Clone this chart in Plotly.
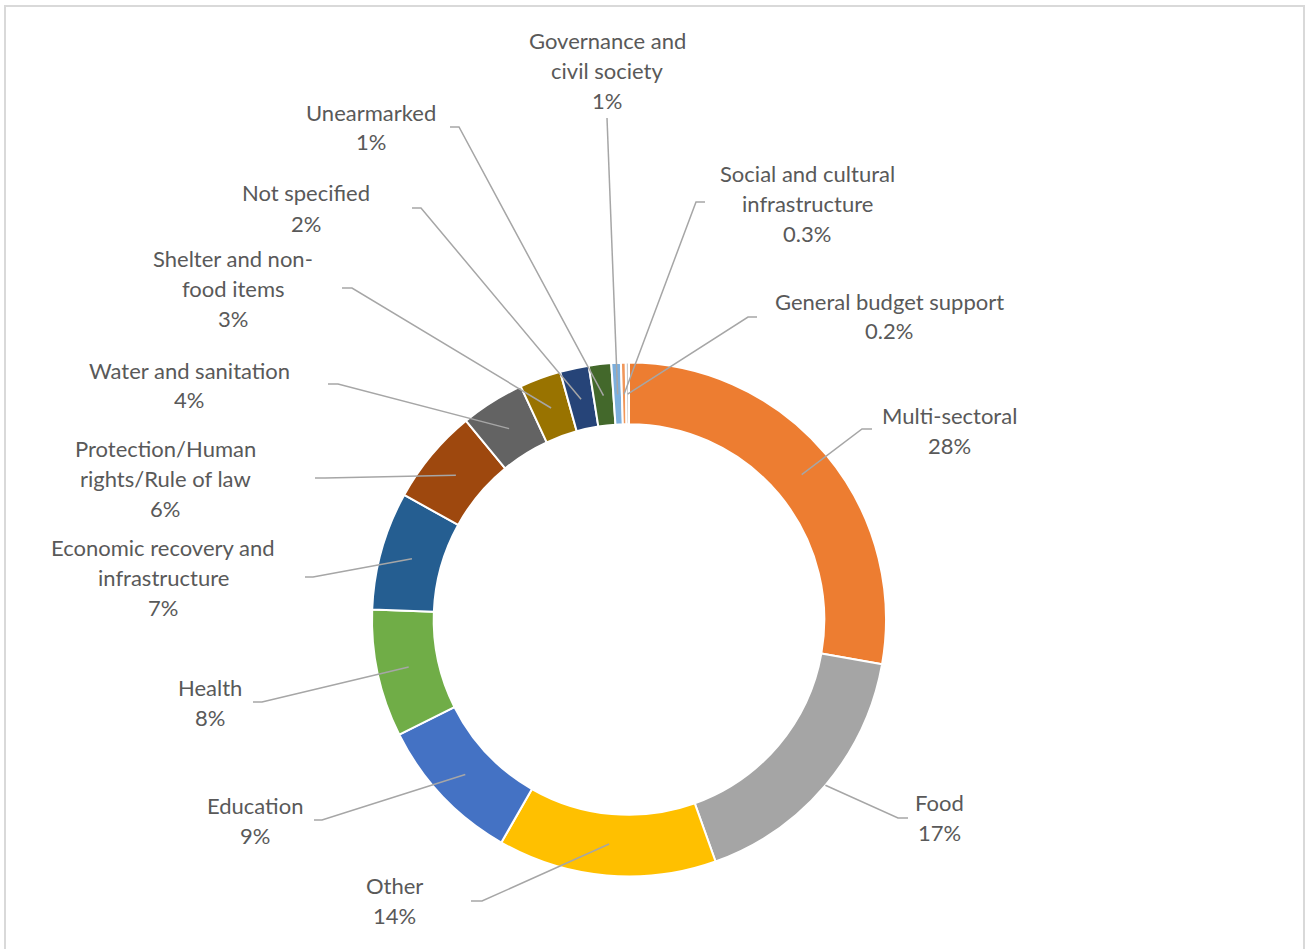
import math
import plotly.graph_objects as go

# ---------------- data ----------------
sectors = [
    "Multi-sectoral", "Food", "Other", "Education", "Health",
    "Economic recovery and infrastructure", "Protection/Human rights/Rule of law",
    "Water and sanitation", "Shelter and non-food items", "Not specified",
    "Unearmarked", "Governance and civil society",
    "Social and cultural infrastructure", "General budget support",
]
shares = [27.7, 16.7, 13.7, 9.3, 8.0, 7.4, 6.0, 4.0, 2.6, 1.8, 1.4, 0.6, 0.3, 0.2]
pct_labels = ["28%", "17%", "14%", "9%", "8%", "7%", "6%", "4%", "3%", "2%",
              "1%", "1%", "0.3%", "0.2%"]
# label text as wrapped in the chart
label_wrapped = [
    "Multi-sectoral", "Food", "Other", "Education", "Health",
    "Economic recovery and\ninfrastructure", "Protection/Human\nrights/Rule of law",
    "Water and sanitation", "Shelter and non-\nfood items", "Not specified",
    "Unearmarked", "Governance and\ncivil society",
    "Social and cultural\ninfrastructure", "General budget support",
]

# ---------------- styles / layout ----------------
colors = ["#ED7D31", "#A5A5A5", "#FFC000", "#4472C4", "#70AD47", "#255E91",
          "#9E480E", "#636363", "#997300", "#264478", "#43682B", "#7CAFDD",
          "#F1975A", "#C9C9C9"]

W, H = 1306, 949
CX, CY, R = 629.0, 619.5, 257.0
HOLE = 0.76
LINE_H = 30
FONT = dict(family="Lato, Carlito, Calibri, sans-serif", size=22, color="#595959")

# label block centres (pixels)
label_pos = [(949, 430), (939, 817), (394, 900), (255, 820.5), (210, 702),
             (163, 577.5), (165, 478.5), (189, 385), (233, 288.5), (306, 208),
             (371, 127), (607, 70.5), (807, 203.5), (889, 316)]
# leader line elbow and stub end (pixels)
elbows = [(862, 429), (898, 818), (482, 901), (322, 820), (262, 702),
          (313, 577), (325, 478), (338, 384), (352, 288), (421, 208),
          (459, 127), (607, 118), (696, 202), (748, 317)]
stubs = [(872, 429), (908, 818), (471, 901), (314, 820), (253, 702),
         (305, 577), (315, 478), (328, 384), (342, 288), (412, 208),
         (450, 127), (607, 118), (705, 202), (757, 317)]
# radial position of leader line start, as fraction of outer radius
leader_r = [0.877, 1.0, 0.877, 0.877, 0.877, 0.877, 0.877, 0.877, 0.877,
            0.877, 0.877, 0.877, 0.877, 0.877]


def px(x):
    return x / W


def py(y):
    return 1 - y / H


fig = go.Figure()
fig.add_trace(go.Pie(
    labels=sectors, values=shares, sort=False, direction="clockwise",
    rotation=0, hole=HOLE, textinfo="none", hoverinfo="label+percent",
    marker=dict(colors=colors, line=dict(color="white", width=2)),
    domain=dict(x=[px(CX - R), px(CX + R)], y=[py(CY + R), py(CY - R)]),
    showlegend=False,
))

shapes = []
annotations = []
total = sum(shares)
cum = 0.0
for i, v in enumerate(shares):
    mid = (cum + v / 2) / total * 2 * math.pi
    cum += v
    r = R * leader_r[i]
    sx = CX + r * math.sin(mid)
    sy = CY - r * math.cos(mid)
    ex, ey = elbows[i]
    tx, ty = stubs[i]
    shapes.append(dict(
        type="path", xref="paper", yref="paper",
        path=f"M {px(sx)} {py(sy)} L {px(ex)} {py(ey)} L {px(tx)} {py(ty)}",
        line=dict(color="#A6A6A6", width=1.5),
    ))
    lines = label_wrapped[i].split("\n") + [pct_labels[i]]
    lx, lyc = label_pos[i]
    n = len(lines)
    for k, t in enumerate(lines):
        yy = lyc + (k - (n - 1) / 2) * LINE_H
        annotations.append(dict(
            x=px(lx), y=py(yy), xref="paper", yref="paper", text=t,
            showarrow=False, xanchor="center", yanchor="middle", font=FONT,
        ))

# chart border
shapes.append(dict(type="rect", xref="paper", yref="paper",
                   x0=px(5), x1=px(1304), y0=py(960), y1=py(6),
                   line=dict(color="#D9D9D9", width=2), layer="below"))

fig.update_layout(
    width=W, height=H, margin=dict(l=0, r=0, t=0, b=0),
    paper_bgcolor="white", plot_bgcolor="white",
    shapes=shapes, annotations=annotations,
)

fig.write_html("out.html")
